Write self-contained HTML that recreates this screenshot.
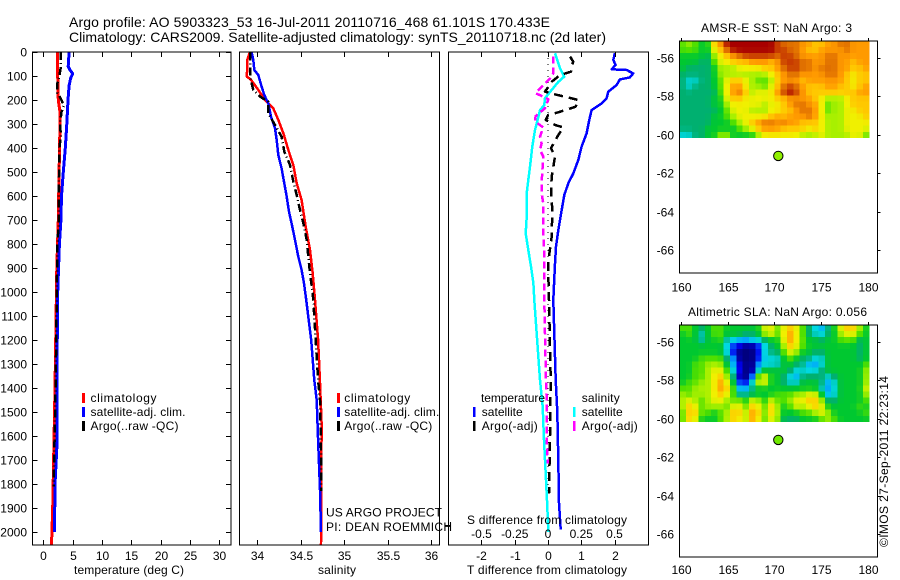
<!DOCTYPE html>
<html>
<head>
<meta charset="utf-8">
<title>Argo profile 5903323_53</title>
<style>
html,body{margin:0;padding:0;background:#fff;}
svg{display:block;font-family:"Liberation Sans",sans-serif;font-size:12px;fill:#000;}
text{stroke:none;}
</style>
</head>
<body>
<svg id="chart" xmlns="http://www.w3.org/2000/svg" width="900" height="580" viewBox="0 0 900 580">
<rect x="0" y="0" width="900" height="580" fill="#fff"/>
<text x="69" y="27" font-size="14" textLength="481" lengthAdjust="spacing">Argo profile: AO 5903323_53 16-Jul-2011 20110716_468 61.101S 170.433E</text>
<text x="69" y="42" font-size="14" textLength="537" lengthAdjust="spacing">Climatology: CARS2009. Satellite-adjusted climatology: synTS_20110718.nc (2d later)</text>
<g id="layer-heat"></g>
<g id="layer-marks"></g>
<g id="layer-axes"></g>

<g>
<text x="90.5" y="402" textLength="66" lengthAdjust="spacing">climatology</text>
<text x="90.5" y="416" textLength="95" lengthAdjust="spacing">satellite-adj. clim.</text>
<text x="90.5" y="430" textLength="88" lengthAdjust="spacing">Argo(..raw -QC)</text>
<rect x="82" y="393" width="3" height="10" fill="#f00"/>
<rect x="82" y="407" width="3" height="10" fill="#00f"/>
<rect x="82" y="421" width="3" height="10" fill="#000"/>
</g>
<g>
<text x="344.3" y="402" textLength="66" lengthAdjust="spacing">climatology</text>
<text x="344.3" y="416" textLength="95" lengthAdjust="spacing">satellite-adj. clim.</text>
<text x="344.3" y="430" textLength="88" lengthAdjust="spacing">Argo(..raw -QC)</text>
<rect x="337" y="393" width="3" height="10" fill="#f00"/>
<rect x="337" y="407" width="3" height="10" fill="#00f"/>
<rect x="337" y="421" width="3" height="10" fill="#000"/>
</g>
<g>
<text x="481" y="402" textLength="64" lengthAdjust="spacing">temperature</text>
<text x="481.7" y="416" textLength="41" lengthAdjust="spacing">satellite</text>
<text x="481.7" y="430" textLength="56" lengthAdjust="spacing">Argo(-adj)</text>
<text x="581.7" y="402" textLength="38" lengthAdjust="spacing">salinity</text>
<text x="581.7" y="416" textLength="41" lengthAdjust="spacing">satellite</text>
<text x="581.7" y="430" textLength="56" lengthAdjust="spacing">Argo(-adj)</text>
<rect x="473" y="407" width="2.5" height="10" fill="#00f"/>
<rect x="473" y="421" width="2.5" height="10" fill="#000"/>
<rect x="573" y="407" width="2.5" height="10" fill="#0ff"/>
<rect x="573" y="421" width="2.5" height="10" fill="#f0f"/>
</g>

<text x="326" y="516.7" textLength="116" lengthAdjust="spacing">US ARGO PROJECT</text>
<text x="326" y="531" textLength="126" lengthAdjust="spacing">PI: DEAN ROEMMICH</text>
<text x="467" y="524" textLength="160" lengthAdjust="spacing">S difference from climatology</text>
<text x="129" y="574" text-anchor="middle" textLength="110" lengthAdjust="spacing">temperature (deg C)</text>
<text x="337" y="574" text-anchor="middle" textLength="38" lengthAdjust="spacing">salinity</text>
<text x="467" y="574" textLength="160" lengthAdjust="spacing">T difference from climatology</text>
<text x="701" y="32" textLength="151" lengthAdjust="spacing">AMSR-E SST: NaN  Argo: 3</text>
<text x="688" y="316" textLength="179" lengthAdjust="spacing">Altimetric SLA: NaN  Argo: 0.056</text>
<text transform="translate(888,547) rotate(-90)" textLength="171" lengthAdjust="spacing">©IMOS 27-Sep-2011 22:23:14</text>
</svg>

<script>
// ---------- tick labels ----------
const depthTicks = [0,100,200,300,400,500,600,700,800,900,1000,1100,1200,1300,1400,1500,1600,1700,1800,1900,2000];
const tempTicks = [0,5,10,15,20,25,30];
const salTicks = [34,34.5,35,35.5,36];
const salTickLabels = ['34','34.5','35','35.5','36'];
const tDiffTicks = [-2,-1,0,1,2];
const sDiffTicks = [-0.5,-0.25,0,0.25,0.5];
const lonTicks = [160,165,170,175,180];
const latTicks = [-56,-58,-60,-62,-64,-66];

// ---------- temperature panel ----------
const tClimDepth = [0,100,200,250,300,500,700,900,1400,1900,2054];
const tClimValue = [2.4,2.45,2.55,2.85,2.85,2.7,2.55,2.3,2.0,1.6,1.4];
const tSatDepth = [0,60,75,90,110,140,200,300,400,500,600,700,800,1000,1400,1650,1800,2000];
const tSatValue = [4.4,4.25,4.55,5.0,4.65,4.4,4.2,4.0,3.75,3.4,3.1,3.0,2.75,2.45,2.3,2.3,2.0,1.9];
const tArgoDepth = [0,60,100,130,170,200,225,250,300,350,400,500,600,700,800,1000,1400,1810];
const tArgoValue = [3.0,3.0,2.75,2.4,2.4,3.1,3.5,3.1,2.85,3.0,2.75,2.7,2.6,2.65,2.4,2.3,2.1,1.75];

// ---------- salinity panel ----------
const sClimDepth = [0,33,103,114,158,200,235,283,339,408,471,547,617,728,825,922,1033,1200,1367,1550,2054];
const sClimValue = [33.916,33.885,33.88,33.924,34.012,34.089,34.184,34.242,34.30,34.357,34.414,34.453,34.51,34.557,34.606,34.637,34.664,34.70,34.72,34.74,34.733];
const sSatDepth = [3,33,75,96,144,179,214,269,318,367,429,485,547,603,665,728,783,853,908,964,1026,1200,1367,1450,1617,1825,2000];
const sSatValue = [33.935,33.954,33.965,34.012,34.05,34.08,34.127,34.158,34.204,34.223,34.242,34.28,34.311,34.338,34.365,34.403,34.434,34.472,34.51,34.537,34.56,34.62,34.656,34.683,34.70,34.722,34.733];
const sArgoDepth = [3,75,103,158,186,207,256,304,353,415,471,540,596,658,714,783,853,922,992,1033,1367,1450,1650,1830];
const sArgoValue = [33.916,33.916,33.916,33.954,34.031,34.127,34.127,34.204,34.28,34.311,34.376,34.414,34.453,34.491,34.53,34.568,34.587,34.606,34.633,34.644,34.70,34.722,34.733,34.733];

// ---------- difference panel ----------
const dTSatDepth = [5,33,54,72,75,89,106,114,138,165,193,214,242,283,339,394,450,506,547,596,658,742,811,881,1033,1367,1500,1700,1880,1990];
const dTSatValue = [2.01,1.96,2.03,1.91,2.36,2.56,2.46,2.16,2.06,1.81,1.76,1.61,1.31,1.24,1.16,1.01,0.91,0.76,0.61,0.49,0.41,0.31,0.24,0.21,0.16,0.23,0.28,0.31,0.33,0.38];
const dTArgoDepth = [19,40,61,82,96,124,165,175,193,200,228,249,263,283,304,314,346,401,436,519,575,658,769,881,1033,1367,1600,1840];
const dTArgoValue = [0.66,0.76,0.71,0.69,0.36,0.11,-0.09,0.16,0.71,0.91,0.83,0.36,0,-0.07,0.21,0.46,0.31,0.09,0.21,0.11,0.09,0.13,0.11,0,0.03,0.08,0.06,0.03];
const dSSatDepth = [5,47,68,103,124,158,193,221,242,283,325,394,478,533,589,686,756,825,894,964,1033,1367,1478,1617,1783,1894,2000];
const dSSatValue = [0.053,0.078,0.09,0.122,0.078,0.028,-0.023,-0.028,-0.06,-0.078,-0.098,-0.118,-0.135,-0.148,-0.16,-0.16,-0.168,-0.148,-0.128,-0.11,-0.103,-0.06,-0.04,-0.03,-0.015,-0.005,0.002];
const dSArgoDepth = [19,89,110,131,172,183,197,235,267,290,314,353,381,408,436,492,547,589,631,742,825,908,1033,1367,1450,1617,1714];
const dSArgoValue = [0.04,0.04,0.015,-0.023,-0.093,-0.048,0.003,-0.023,-0.093,-0.098,-0.035,-0.06,-0.048,-0.06,-0.035,-0.042,-0.048,-0.048,-0.035,-0.035,-0.03,-0.028,-0.028,-0.015,-0.01,-0.01,-0.002];
const zeroLineDepth = [0,1850];
const zeroLineValue = [0,0];

// ---------- map rows: colour class per grid cell ----------
const sstRows = [
[6,7,6,5,5,9,10,13,13,13,13,13,13,13,13,12,11,11,11,10,10,9,9,10,10,11,11,10,10,10],
[6,6,6,5,5,8,9,11,13,13,13,13,13,13,13,12,12,11,11,10,9,9,10,10,10,10,11,10,10,10],
[5,5,5,5,4,7,8,9,10,11,12,12,12,12,12,11,12,12,11,10,10,10,10,11,11,10,10,10,10,10],
[5,5,5,4,4,6,8,8,9,9,9,10,10,10,9,10,12,12,12,11,11,10,10,11,11,10,10,9,10,10],
[5,4,4,4,4,5,7,7,7,8,8,8,8,9,9,10,11,12,12,11,11,10,11,11,11,10,10,9,9,10],
[4,4,4,4,4,5,7,7,7,7,7,7,7,7,8,9,10,11,11,10,10,10,10,11,11,10,9,8,9,9],
[4,3,3,4,4,5,6,8,9,9,8,7,6,6,7,9,10,10,10,9,10,10,10,10,10,10,9,8,9,9],
[4,3,4,4,4,5,6,8,10,10,8,7,7,6,8,9,11,12,11,10,9,9,9,10,10,9,9,8,9,10],
[4,4,4,4,4,4,6,8,10,11,9,7,8,8,8,10,12,13,12,10,9,9,9,9,9,9,9,9,10,10],
[4,4,4,4,4,5,5,8,9,9,8,8,8,8,8,9,9,10,10,10,10,9,8,7,7,7,8,9,9,9],
[4,4,4,4,4,5,5,7,8,8,8,8,8,7,8,8,9,10,11,11,10,10,8,6,7,7,8,9,9,9],
[4,4,4,4,4,4,5,6,8,8,8,7,7,7,8,8,9,9,10,11,11,10,8,6,7,7,8,8,9,9],
[4,4,4,4,4,5,5,6,7,8,8,8,8,8,9,10,9,10,10,10,11,10,8,7,7,7,8,8,8,9],
[4,4,4,4,4,5,5,5,6,7,8,9,10,11,11,10,11,10,10,9,9,9,8,7,7,7,8,8,8,8],
[4,4,4,4,5,5,5,5,5,6,7,8,9,10,10,10,9,9,9,9,8,9,8,7,7,7,8,8,8,8],
[3,3,4,4,5,5,7,7,5,5,5,5,7,8,8,8,8,8,8,7,7,7,8,7,7,7,7,8,8,6]
];
const slaRows = [
[6,6,5,4,5,6,6,5,5,5,5,5,5,8,8,6,8,9,8,6,4,3,2,4,5,8,9,9,7,5],
[5,6,5,3,5,6,6,5,5,5,4,4,5,7,8,6,8,10,8,6,4,3,3,4,5,7,8,8,6,5],
[5,5,5,3,5,5,6,3,3,2,2,3,3,4,5,5,8,10,8,6,5,5,4,5,5,6,6,6,4,5],
[5,5,5,5,5,5,5,3,1,1,0,0,1,3,4,5,7,9,8,6,5,5,5,5,5,5,5,5,4,5],
[5,5,5,5,5,5,5,3,1,0,0,0,1,3,4,4,6,8,7,5,5,4,4,5,5,5,5,5,4,5],
[5,5,5,6,6,6,6,4,2,0,0,0,1,3,3,3,5,6,5,4,4,3,3,5,5,5,5,5,4,5],
[5,5,6,6,7,7,7,5,2,1,0,0,2,3,3,3,5,5,4,4,2,2,3,5,5,5,5,5,5,6],
[5,5,6,6,7,8,8,6,3,1,0,0,3,5,5,5,5,4,3,3,3,3,4,5,5,5,5,5,5,7],
[5,5,6,6,7,8,9,7,4,0,0,1,7,8,5,5,4,3,2,4,4,4,4,3,4,5,5,5,5,7],
[5,6,6,7,7,8,10,8,5,1,1,3,8,8,5,5,4,3,3,5,5,5,4,2,3,5,5,5,5,7],
[6,6,7,7,7,8,10,9,6,2,2,4,5,5,5,5,5,5,5,5,5,5,3,2,3,5,5,5,5,8],
[7,6,7,7,7,8,9,8,6,3,4,4,5,5,5,6,6,6,7,7,8,8,5,2,3,5,5,5,5,7],
[7,8,7,6,7,8,8,7,6,7,5,8,7,5,8,6,6,7,8,8,9,9,7,4,4,5,5,5,5,6],
[7,9,8,6,7,7,7,6,8,8,6,9,8,6,9,7,5,6,8,7,8,9,8,5,5,5,5,5,6,5],
[6,9,9,6,6,5,6,7,9,9,7,10,9,6,9,7,5,5,5,6,6,7,8,7,5,5,5,5,5,6],
[6,9,8,5,5,5,6,7,9,8,7,10,8,6,8,7,4,4,4,5,5,5,6,7,6,5,5,5,5,5]
];
const heatPalette = ['#00007f','#0000f0','#00a0ff','#00d8e0','#00b070','#00c830','#50e000','#a8f000','#f0f000','#ffc800','#ff9a00','#e07000','#c83c00','#a80000'];

// ---------- Argo float position ----------
const argoLon = [170.433];
const argoLat = [-61.101];

// ---------- axis functions ----------
const SVGNS = 'http://www.w3.org/2000/svg';
const heatLayer = document.getElementById('layer-heat');
const markLayer = document.getElementById('layer-marks');
const axisLayer = document.getElementById('layer-axes');

function mk(tag, attrs, parent){
  const el = document.createElementNS(SVGNS, tag);
  for (const k in attrs) el.setAttribute(k, attrs[k]);
  parent.appendChild(el);
  return el;
}
function yDepth(d){ return 52 + d * 0.24; }
function xTemp(v){ return 43.3 + v * 5.87; }
function xSal(v){ return 257.3 + (v - 34) * 86.9; }
function xTDiff(v){ return 548 + v * 33.3; }
function xSDiff(v){ return 548 + v * 133; }
function xLon(v){ return 681 + (v - 160) * 9.33; }
function yLatTop(v){ return 58 + (-56 - v) * 19.2; }
function yLatBottom(v){ return 342 + (-56 - v) * 19.2; }

function drawSeries(name, depth, value, xf, color, width, dash){
  const pts = depth.map(function(d, i){ return xf(value[i]).toFixed(1) + ',' + yDepth(d).toFixed(1); }).join(' ');
  const el = mk('polyline', {points: pts, fill: 'none', stroke: color, 'stroke-width': width, 'stroke-linejoin': 'round', 'shape-rendering': 'crispEdges'}, markLayer);
  if (dash) el.setAttribute('stroke-dasharray', dash);
  
  
}
function tickLine(x1, y1, x2, y2, name){
  const el = mk('line', {x1: x1, y1: y1, x2: x2, y2: y2, stroke: '#000', 'stroke-width': 1, 'shape-rendering': 'crispEdges'}, axisLayer);
  
  
}
function label(x, y, str, anchor, name){
  const el = mk('text', {x: x, y: y, 'text-anchor': anchor}, axisLayer);
  el.textContent = str;
  
  
}
function frame(x, y, w, h, name){
  const el = mk('rect', {x: x, y: y, width: w, height: h, fill: 'none', stroke: '#000', 'stroke-width': 1, 'shape-rendering': 'crispEdges'}, axisLayer);
  
  
}
function paletteColor(v){
  const i = Math.max(0, Math.min(heatPalette.length - 1.001, v));
  const a = Math.floor(i), t = i - a;
  const p = heatPalette[a], q = heatPalette[a + 1];
  let out = 'rgb(';
  for (let k = 0; k < 3; k++){
    const c0 = parseInt(p.substr(1 + k * 2, 2), 16);
    const c1 = parseInt(q.substr(1 + k * 2, 2), 16);
    out += Math.round(c0 + (c1 - c0) * t) + (k < 2 ? ',' : ')');
  }
  return out;
}
function softened(rows, r, c){
  let sum = rows[r][c] * 5, w = 5;
  [[r-1,c],[r+1,c],[r,c-1],[r,c+1]].forEach(function(n){
    if (rows[n[0]] && rows[n[0]][n[1]] !== undefined){ sum += rows[n[0]][n[1]]; w += 1; }
  });
  return sum / w;
}
function drawHeat(rows, name, y0){
  const cw = 6.32, ch = 6.05;
  rows.forEach(function(row, r){
    row.forEach(function(v, c){
      const el = mk('rect', {x: (679.5 + c * cw).toFixed(2), y: (y0 + r * ch).toFixed(2), width: cw + 0.3, height: ch + 0.3, fill: paletteColor(softened(rows, r, c)), 'shape-rendering': 'crispEdges'}, heatLayer);
      
      
    });
  });
}
function drawMarker(name, lon, lat, yf, color){
  const el = mk('circle', {cx: xLon(lon).toFixed(1), cy: yf(lat).toFixed(1), r: 4.7, fill: color, stroke: '#000', 'stroke-width': 1}, markLayer);
  
  
}

// ---------- profile panels ----------
drawSeries('temperature-climatology-line', tClimDepth, tClimValue, xTemp, '#f00', 3);
drawSeries('temperature-satellite-line', tSatDepth, tSatValue, xTemp, '#00f', 3);
drawSeries('temperature-argo-line', tArgoDepth, tArgoValue, xTemp, '#000', 2.5, '8 3 1 3');
drawSeries('salinity-climatology-line', sClimDepth, sClimValue, xSal, '#f00', 2.5);
drawSeries('salinity-satellite-line', sSatDepth, sSatValue, xSal, '#00f', 2.5);
drawSeries('salinity-argo-line', sArgoDepth, sArgoValue, xSal, '#000', 2.5, '8 3 1 3');
drawSeries('zero-difference-line', zeroLineDepth, zeroLineValue, xTDiff, '#000', 1, '1 5');
drawSeries('t-difference-satellite-line', dTSatDepth, dTSatValue, xTDiff, '#00f', 2.5);
drawSeries('s-difference-satellite-line', dSSatDepth, dSSatValue, xSDiff, '#0ff', 2.5);
drawSeries('t-difference-argo-line', dTArgoDepth, dTArgoValue, xTDiff, '#000', 2.5, '9 6');
drawSeries('s-difference-argo-line', dSArgoDepth, dSArgoValue, xSDiff, '#f0f', 2.5, '7 4');

frame(32.5, 52, 198.5, 493, 'temperature-panel-frame');
frame(239.5, 52, 200, 493, 'salinity-panel-frame');
frame(448.5, 52, 200, 493, 'difference-panel-frame');

depthTicks.forEach(function(d){
  const y = Math.round(yDepth(d)) + 0.5;
  tickLine(32.5, y, 37.5, y, 'depth-tick-left');
  tickLine(226, y, 231, y, 'depth-tick-right');
  label(27, y + 4, String(d), 'end', 'depth-tick-label');
});
tempTicks.forEach(function(v){
  const x = Math.round(xTemp(v)) + 0.5;
  tickLine(x, 52, x, 57, 'temperature-tick-top');
  tickLine(x, 540, x, 545, 'temperature-tick-bottom');
  label(x, 560, String(v), 'middle', 'temperature-tick-label');
});
salTicks.forEach(function(v, i){
  const x = Math.round(xSal(v)) + 0.5;
  tickLine(x, 52, x, 57, 'salinity-tick-top');
  tickLine(x, 540, x, 545, 'salinity-tick-bottom');
  label(x, 560, salTickLabels[i], 'middle', 'salinity-tick-label');
});
tDiffTicks.forEach(function(v){
  const x = Math.round(xTDiff(v)) + 0.5;
  tickLine(x, 52, x, 57, 't-difference-tick-top');
  tickLine(x, 540, x, 545, 't-difference-tick-bottom');
  label(x, 560, String(v), 'middle', 't-difference-tick-label');
});
sDiffTicks.forEach(function(v){
  label(xSDiff(v), 538, String(v), 'middle', 's-difference-tick-label');
});
tickLine(445, 525.5, 451, 525.5, 's-difference-axis-stub');
tickLine(450.5, 522, 450.5, 530, 's-difference-axis-stub-end');

// ---------- maps ----------
drawHeat(sstRows, 'sst-heatmap-cell', 41);
drawHeat(slaRows, 'sla-heatmap-cell', 325);
frame(679.5, 41, 198, 232, 'sst-map-frame');
frame(679.5, 325, 198, 232, 'sla-map-frame');
lonTicks.forEach(function(v){
  const x = Math.round(xLon(v)) + 0.5;
  tickLine(x, 38, x, 41, 'sst-lon-tick');
  tickLine(x, 322, x, 325, 'sla-lon-tick');
  label(x, 291.5, String(v), 'middle', 'sst-lon-label');
  label(x, 574, String(v), 'middle', 'sla-lon-label');
});
latTicks.forEach(function(v){
  const y1 = Math.round(yLatTop(v)) + 0.5;
  const y2 = Math.round(yLatBottom(v)) + 0.5;
  tickLine(877.5, y1, 880.5, y1, 'sst-lat-tick');
  tickLine(877.5, y2, 880.5, y2, 'sla-lat-tick');
  label(674, y1 + 4, String(v), 'end', 'sst-lat-label');
  label(674, y2 + 4, String(v), 'end', 'sla-lat-label');
});
drawMarker('sst-argo-position', argoLon[0], argoLat[0], yLatTop, '#90f000');
drawMarker('sla-argo-position', argoLon[0], argoLat[0], yLatBottom, '#70e800');
</script>
</body>
</html>
